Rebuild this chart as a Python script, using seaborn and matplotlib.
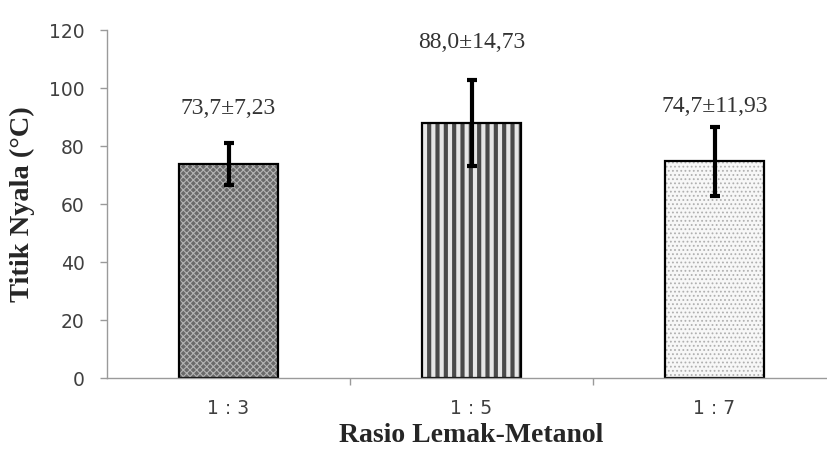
import matplotlib.pyplot as plt
import seaborn as sns
import numpy as np
import pandas as pd
from matplotlib.ticker import FixedLocator

# === Data ===
ratios = ["1 : 3", "1 : 5", "1 : 7"]
flash_point = [73.7, 88.0, 74.7]
flash_sd = [7.23, 14.73, 11.93]
value_labels = ["73,7±7,23", "88,0±14,73", "74,7±11,93"]

df = pd.DataFrame({"ratio": ratios, "titik": flash_point})

sns.set_style("white")
plt.rcParams["font.family"] = ["DejaVu Sans"]

fig = plt.figure(figsize=(8.27, 4.51), dpi=100)
ax = fig.add_axes([107 / 827, 1 - 378 / 451, 729 / 827, 348 / 451])

# fills with patterns
sns.barplot(data=df, x="ratio", y="titik", ax=ax, width=0.41,
            errorbar=None, linewidth=0, color="white")
styles = [
    ("#6a6a6a", "xxxxx", "#b4b4b4", 0.8),
    ("#e6e6e6", "||", "#4a4a4a", 3.0),
    ("#f7f7f7", "....", "#b0b0b0", 0.8),
]
for patch, (fc, hatch, hc, hlw) in zip(ax.patches, styles):
    patch.set_facecolor(fc)
    patch.set_hatch(hatch)
    patch.set_edgecolor(hc)
    if hasattr(patch, "set_hatch_linewidth"):
        patch.set_hatch_linewidth(hlw)

# black outlines
sns.barplot(data=df, x="ratio", y="titik", ax=ax, width=0.41,
            errorbar=None, fill=False, edgecolor="black", linewidth=1.6)

x = np.arange(len(ratios))
ax.errorbar(x, flash_point, yerr=flash_sd, fmt="none", ecolor="black",
            elinewidth=3, capsize=3.5, capthick=3, zorder=5)

label_offsets = [12, 13, 7]
for xi, m, s, lab, off in zip(x, flash_point, flash_sd, value_labels, label_offsets):
    ax.text(xi, m + s + off, lab, ha="center", va="center",
            fontsize=17, family="Liberation Serif", color="#333333")

ax.set_xlim(-0.5, 2.5)
ax.set_ylim(0, 120)
ax.set_yticks(range(0, 121, 20))
ax.xaxis.set_minor_locator(FixedLocator([0.5, 1.5]))

for side in ["top", "right"]:
    ax.spines[side].set_visible(False)
for side in ["left", "bottom"]:
    ax.spines[side].set_color("#9a9a9a")
    ax.spines[side].set_linewidth(1.0)

ax.tick_params(axis="y", which="major", direction="out", length=5, width=1,
               color="#9a9a9a", labelsize=13.5, labelcolor="#404040", pad=11, left=True)
ax.tick_params(axis="x", which="major", length=0, labelsize=13.5,
               labelcolor="#404040", pad=15)
ax.tick_params(axis="x", which="minor", direction="out", length=5, width=1,
               color="#9a9a9a", bottom=True)

ax.set_xlabel("Rasio Lemak-Metanol", fontsize=20, fontweight="bold",
              family="Liberation Serif", labelpad=4)
ax.set_ylabel("Titik Nyala (\u00b0C)", fontsize=20.5, fontweight="bold",
              family="Liberation Serif", labelpad=10)

fig.savefig("out.png", dpi=100)
